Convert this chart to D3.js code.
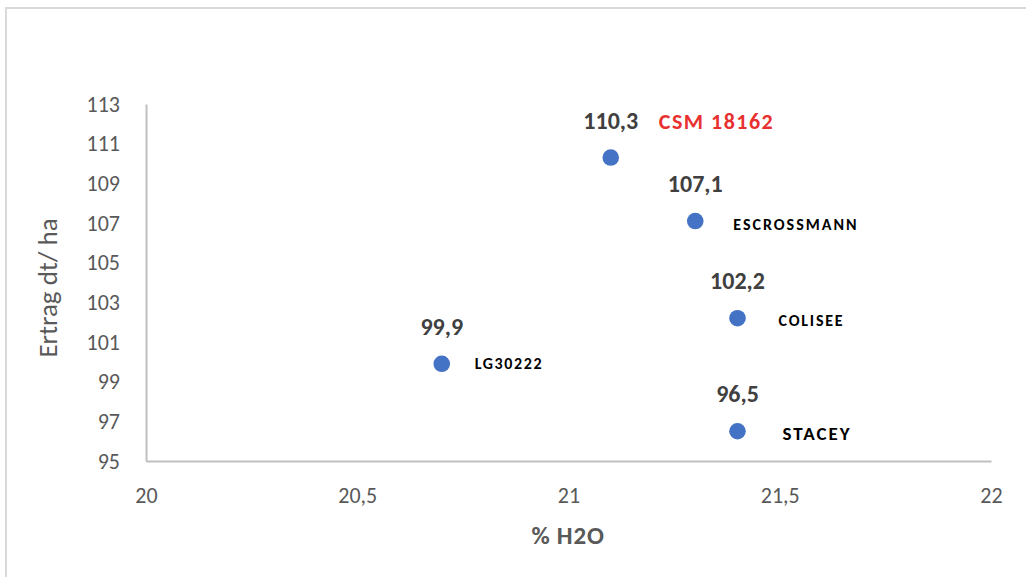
<!DOCTYPE html>
<html><head><meta charset="utf-8">
<script src="https://cdn.jsdelivr.net/npm/d3@7"></script>
<style>
html,body{margin:0;padding:0;background:#fff;}
text{font-family:Carlito,Calibri,Lato,"Open Sans",sans-serif;}
</style></head>
<body><svg id="c" width="1026" height="577"></svg>
<script>
const names = ["LG30222","CSM 18162","ESCROSSMANN","COLISEE","STACEY"];
const h2o = [20.7, 21.1, 21.3, 21.4, 21.4];
const yieldVals = [99.9, 110.3, 107.1, 102.2, 96.5];
const valueLabels = ["99,9","110,3","107,1","102,2","96,5"];
const xTicks = [20, 20.5, 21, 21.5, 22];
const yTicks = [95, 97, 99, 101, 103, 105, 107, 109, 111, 113];

// layout for name labels (offsets relative to point; styling)
const nameLayout = [
  {dx:33, dy:5, size:16, ls:1.6, color:"#000"},
  {dx:48, dy:-29, size:22, ls:1.5, color:"#e8312f"},
  {dx:38, dy:9, size:16, ls:2, color:"#000"},
  {dx:41, dy:8, size:16, ls:1.8, color:"#000"},
  {dx:45, dy:9, size:19, ls:2, color:"#000"}
];

const svg = d3.select("#c");
svg.append("rect").attr("x",6).attr("y",8).attr("width",1030).attr("height",600)
  .attr("fill","#fff").attr("stroke","#d9d9d9").attr("stroke-width",2);

const x = d3.scaleLinear().domain([20,22]).range([146,991]);
const y = d3.scaleLinear().domain([95,113]).range([461,104]);

const fmt = d => String(d).replace(".", ",");

const gx = svg.append("g").attr("transform","translate(0,461)")
  .call(d3.axisBottom(x).tickValues(xTicks).tickFormat(fmt).tickSize(0).tickPadding(26));
gx.select(".domain").attr("stroke","#bfbfbf").attr("stroke-width",2);
gx.selectAll("text").attr("fill","#595959").style("font-size","22px");

const gy = svg.append("g").attr("transform","translate(146,0)")
  .call(d3.axisLeft(y).tickValues(yTicks).tickFormat(fmt).tickSize(0).tickPadding(26));
gy.select(".domain").attr("stroke","#bfbfbf").attr("stroke-width",2);
gy.selectAll("text").attr("fill","#595959").style("font-size","22px");

svg.append("text").attr("transform","translate(57,288) rotate(-90)")
  .attr("text-anchor","middle").attr("fill","#595959").style("font-size","27px")
  .text("Ertrag dt/ ha");
svg.append("text").attr("x",568).attr("y",544).attr("text-anchor","middle")
  .attr("fill","#595959").style("font-size","25px").style("font-weight","bold")
  .style("letter-spacing","0.8px").text("% H2O");

const idx = d3.range(names.length);
svg.append("g").selectAll("circle").data(idx).join("circle")
  .attr("cx",i=>x(h2o[i])).attr("cy",i=>y(yieldVals[i])).attr("r",8.3).attr("fill","#4472c4");

svg.append("g").selectAll("text").data(idx).join("text")
  .attr("x",i=>x(h2o[i])).attr("y",i=>y(yieldVals[i])-29)
  .attr("text-anchor","middle").attr("fill","#404040")
  .style("font-size","24px").style("font-weight","bold").text(i=>valueLabels[i]);

svg.append("g").selectAll("text").data(idx).join("text")
  .attr("x",i=>x(h2o[i])+nameLayout[i].dx).attr("y",i=>y(yieldVals[i])+nameLayout[i].dy)
  .attr("fill",i=>nameLayout[i].color)
  .style("font-size",i=>nameLayout[i].size+"px").style("letter-spacing",i=>nameLayout[i].ls+"px")
  .style("font-weight","bold").text(i=>names[i]);
</script></body></html>
